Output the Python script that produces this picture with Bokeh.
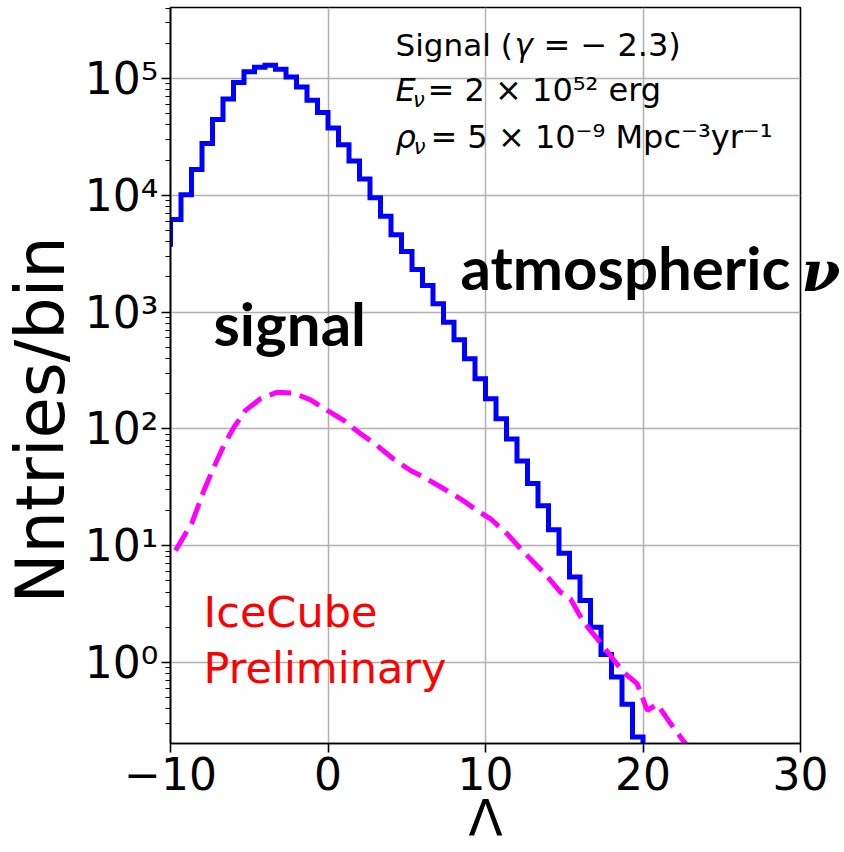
import numpy as np
from bokeh.plotting import figure
from bokeh.models import Range1d, FixedTicker, Label, LogAxis, Title
from bokeh.embed import file_html
from bokeh.resources import INLINE

# ---------------- data ----------------
# atmospheric-nu (background) histogram, bins of width 2/3 in Lambda
bin_edges = np.linspace(-32 / 3, 20, 47)
atm_counts = [3800, 6200, 10100, 16600, 27700, 44500, 66800, 92500, 114000,
              125000, 130000, 120000, 103000, 84700, 65000, 51000, 37700,
              27100, 19600, 13800, 9500, 6600, 4600, 3300, 2310, 1690, 1180,
              820, 580, 398, 268, 181, 122, 82, 53, 34, 22, 13.7, 8.6, 5.4,
              3.4, 2.0, 1.17, 0.75, 0.44, 0.23]
step_floor = 1e-3

# signal curve (dashed)
sig_x = [-9.68, -8.62, -7.88, -7.25, -6.62, -5.98, -5.24, -4.29, -3.23, -2.17,
         -1.11, -0.05, 1.0, 2.06, 3.12, 4.18, 5.24, 6.08, 7.35, 8.41, 9.47,
         10.32, 11.38, 12.43, 13.7, 14.76, 15.4, 16.24, 17.09, 18.15, 18.78,
         19.63, 20.27, 20.9, 21.75, 22.6, 23.2]
sig_y = [9.1, 15.9, 29.7, 47, 72, 103, 144, 181, 206, 202, 177, 144, 118, 91,
         72, 55, 44, 38.6, 30.7, 25.2, 20, 17, 12.6, 8.8, 5.9, 4.0, 3.5, 2.2,
         1.6, 1.05, 0.82, 0.66, 0.39, 0.44, 0.30, 0.21, 0.17]

x_ticks = [-10, 0, 10, 20, 30]
x_tick_labels = ["\u221210", "0", "10", "20", "30"]
y_ticks = [1, 10, 100, 1000, 10000, 100000]
y_tick_labels = ["10\u2070", "10\u00b9", "10\u00b2", "10\u00b3", "10\u2074", "10\u2075"]
y_minor = [m * 10.0 ** e for e in range(-1, 6) for m in range(2, 10)]

# ---------------- figure ----------------
p = figure(width=844, height=852, y_axis_type="log",
           x_range=Range1d(-10, 30), y_range=Range1d(0.2025, 4.05e5),
           output_backend="svg", toolbar_location=None,
           min_border_left=170, min_border_right=44,
           min_border_top=7, min_border_bottom=109)
p.background_fill_color = "white"
p.border_fill_color = "white"
p.outline_line_color = "black"
p.outline_line_width = 1.6

for g in (p.xgrid, p.ygrid):
    g.grid_line_color = "#b0b0b0"
    g.grid_line_width = 1.5
    g.minor_grid_line_color = None

p.xaxis.ticker = FixedTicker(ticks=x_ticks)
p.xaxis.major_label_overrides = dict(zip(x_ticks, x_tick_labels))
p.yaxis.ticker = FixedTicker(ticks=y_ticks, minor_ticks=y_minor)
p.yaxis.major_label_overrides = dict(zip(y_ticks, y_tick_labels))
for ax in (p.xaxis, p.yaxis):
    ax.axis_line_width = 1.6
    ax.axis_line_color = "black"
    ax.major_tick_line_width = 1.6
    ax.minor_tick_line_width = 1.2
    ax.major_tick_in = 0
    ax.major_tick_out = 9
    ax.minor_tick_in = 0
    ax.major_label_text_font = "DejaVu Sans"
    ax.major_label_text_font_size = "44px"
    ax.major_label_text_color = "black"
p.xaxis.minor_tick_out = 0
p.yaxis.minor_tick_out = 5
p.xaxis.major_label_standoff = 4
p.yaxis.major_label_standoff = 3

# x-axis title
p.xaxis.axis_label = "\u039b"
p.xaxis.axis_label_text_font = "DejaVu Sans"
p.xaxis.axis_label_text_font_style = "normal"
p.xaxis.axis_label_text_font_size = "50px"
p.xaxis.axis_label_text_color = "black"
p.xaxis.axis_label_standoff = -4

# y-axis title (as a side title, shifted along the axis)
ytitle = Title(text="Nntries/bin", text_font="DejaVu Sans",
               text_font_style="normal", text_font_size="67px",
               text_color="black", align="left", vertical_align="top",
               offset=140, standoff=0)
p.add_layout(ytitle, "left")

# background histogram (step)
p.step(x=list(bin_edges), y=atm_counts + [step_floor], mode="after",
       line_color="blue", line_width=5, line_join="miter")

# signal dashed
p.line(sig_x, sig_y, line_color="magenta", line_width=5,
       line_dash="22 9", line_cap="butt")

# ---------------- texts ----------------
def lab(x, y, text, size, font="DejaVu Sans", style="normal", color="black"):
    p.add_layout(Label(x=x, y=y, text=text, text_font=font,
                       text_font_size=size, text_font_style=style,
                       text_color=color, text_align="left",
                       text_baseline="middle"))

# info block
lab(4.29, 194300, "Signal (", "31px")
lab(11.84, 194300, "\u03b3", "31px", style="italic")
lab(13.68, 194300, "= \u2212 2.3)", "32px")
lab(4.29, 80000, "E", "32px", style="italic")
lab(5.4, 65200, "\u03bd", "21px", style="italic")
lab(6.32, 80000, "= 2 \u00d7 10\u2075\u00b2  erg", "32px")
lab(4.29, 31700, "\u03c1", "32px", style="italic")
lab(5.45, 25800, "\u03bd", "21px", style="italic")
lab(6.5, 31700, "= 5 \u00d7 10\u207b\u2079  Mpc\u207b\u00b3yr\u207b\u00b9", "32px")

# annotations
lab(-7.27, 802, "signal", "60px", font="Lato", style="bold")
lab(8.41, 2419, "atmospheric", "60px", font="Lato", style="bold")
lab(-7.9, 2.71, "IceCube", "43px", color="red")
lab(-7.9, 0.897, "Preliminary", "43px", color="red")

# the nu of "atmospheric nu" sticks out past the frame: right-side label axis
nu_pos = [2228]
nu_axis = LogAxis(ticker=FixedTicker(ticks=nu_pos),
                  major_label_overrides={nu_pos[0]: "\u03bd"},
                  axis_line_color=None, major_tick_line_color=None,
                  minor_tick_line_color=None, major_tick_out=0,
                  minor_tick_out=0, major_tick_in=0, minor_tick_in=0,
                  major_label_standoff=1,
                  major_label_text_font="DejaVu Serif",
                  major_label_text_font_style="bold italic",
                  major_label_text_font_size="56px",
                  major_label_text_color="black")
p.add_layout(nu_axis, "right")

open("out.html", "w").write(file_html(p, INLINE))
